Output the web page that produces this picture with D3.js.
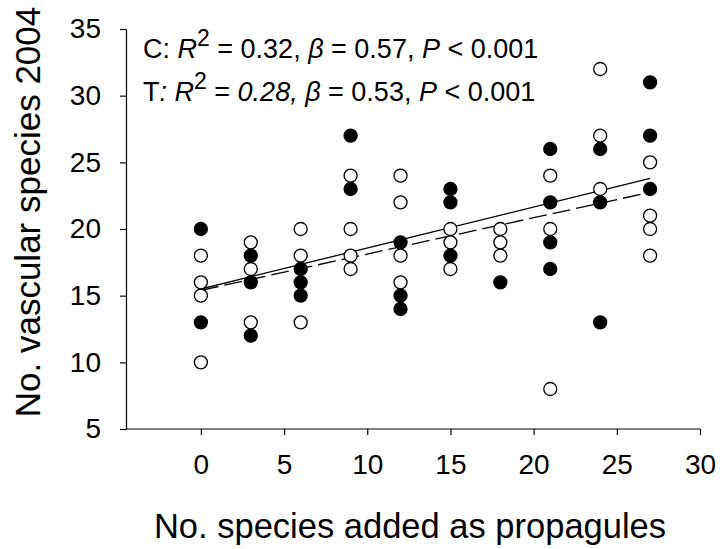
<!DOCTYPE html>
<html>
<head>
<meta charset="utf-8">
<script src="https://cdn.jsdelivr.net/npm/d3@7"></script>
<style>
  html, body { margin: 0; padding: 0; background: #fff; }
  svg { display: block; font-family: "Liberation Sans", Arial, sans-serif; }
</style>
</head>
<body>
<svg id="chart" width="720" height="549"></svg>
<script>
// Propagule treatments (species added) and species counts per plot
const xFilled = [0, 0, 3, 3, 3, 6, 6, 6, 9, 9, 12, 12, 12, 15, 15, 15, 18, 21, 21, 21, 21, 24, 24, 24, 27, 27, 27];
const yFilled = [20, 13, 18, 16, 12, 17, 16, 15, 27, 23, 19, 15, 14, 23, 22, 18, 16, 26, 22, 19, 17, 26, 22, 13, 31, 27, 23];

const xOpen = [0, 0, 0, 0, 3, 3, 3, 6, 6, 6, 9, 9, 9, 9, 12, 12, 12, 12, 15, 15, 15, 18, 18, 18, 21, 21, 21, 24, 24, 24, 27, 27, 27, 27];
const yOpen = [18, 16, 15, 10, 19, 17, 13, 20, 18, 13, 24, 20, 18, 17, 24, 22, 18, 16, 20, 19, 17, 20, 19, 18, 24, 20, 8, 32, 27, 23, 25, 21, 20, 18];

// Fitted regression lines: [x, y] at both ends
const fitSolid = [[0, 15.5], [27, 23.8]];
const fitDashed = [[0, 15.4], [27, 22.75]];

const xTicks = [0, 5, 10, 15, 20, 25, 30];
const yTicks = [5, 10, 15, 20, 25, 30, 35];

const svg = d3.select("#chart");

const x = d3.scaleLinear().domain([-4.5, 30]).range([126, 700]);
const y = d3.scaleLinear().domain([5, 35]).range([429, 29]);

// Axes
const xAxis = svg.append("g")
  .attr("transform", `translate(0,${y(5)})`)
  .call(d3.axisBottom(x).tickValues(xTicks).tickSize(6).tickPadding(19).tickSizeOuter(0));
const yAxis = svg.append("g")
  .attr("transform", `translate(${x(-4.5)},0)`)
  .call(d3.axisLeft(y).tickValues(yTicks).tickSize(6).tickPadding(19).tickSizeOuter(0));

[xAxis, yAxis].forEach(g => {
  g.select(".domain").attr("stroke", "#000").attr("stroke-width", 1.2);
  g.selectAll(".tick line").attr("stroke", "#000").attr("stroke-width", 1.2);
  g.selectAll(".tick text")
    .attr("fill", "#000")
    .style("font-family", "'Liberation Sans', Arial, sans-serif")
    .style("font-size", "28px");
});
// extend x axis line to the right tick
xAxis.select(".domain").attr("d", `M${x(-4.5)},0H${x(30)}`);

// Regression lines
const line = d3.line().x(d => x(d[0])).y(d => y(d[1]));
svg.append("path").datum(fitSolid)
  .attr("d", line).attr("fill", "none").attr("stroke", "#000").attr("stroke-width", 1.3);
svg.append("path").datum(fitDashed)
  .attr("d", line).attr("fill", "none").attr("stroke", "#000").attr("stroke-width", 1.3)
  .attr("stroke-dasharray", "18,6");

// Points
const r = 6.5;
svg.append("g").selectAll("circle")
  .data(d3.range(xOpen.length))
  .join("circle")
  .attr("cx", i => x(xOpen[i]))
  .attr("cy", i => y(yOpen[i]))
  .attr("r", r)
  .attr("fill", "#fff").attr("stroke", "#000").attr("stroke-width", 1.3);
svg.append("g").selectAll("circle")
  .data(d3.range(xFilled.length))
  .join("circle")
  .attr("cx", i => x(xFilled[i]))
  .attr("cy", i => y(yFilled[i]))
  .attr("r", r)
  .attr("fill", "#000").attr("stroke", "#000").attr("stroke-width", 1.3);

// Regression statistics
function statLine(yPos, parts) {
  const t = svg.append("text").attr("x", 143).attr("y", yPos)
    .style("font-size", "27px").attr("fill", "#000");
  parts.forEach(p => {
    const s = t.append("tspan").text(p.t);
    if (p.i) s.style("font-style", "italic");
    if (p.sup) s.attr("dy", -12).style("font-size", "23px");
    if (p.down) s.attr("dy", 12);
  });
}
statLine(58, [
  { t: "C: " }, { t: "R", i: true }, { t: "2", sup: true },
  { t: " = 0.32, ", down: true }, { t: "β", i: true }, { t: " = 0.57, " },
  { t: "P", i: true }, { t: " < 0.001" }
]);
statLine(101, [
  { t: "T" }, { t: ": R", i: true }, { t: "2", sup: true },
  { t: " = ", down: true }, { t: "0.28, β", i: true }, { t: " = 0.53, " },
  { t: "P", i: true }, { t: " < 0.001" }
]);

// Axis titles
svg.append("text")
  .attr("x", 410).attr("y", 538)
  .attr("text-anchor", "middle")
  .style("font-size", "34.5px")
  .text("No. species added as propagules");
svg.append("text")
  .attr("transform", `translate(40,212) rotate(-90)`)
  .attr("text-anchor", "middle")
  .style("font-size", "35px")
  .text("No. vascular species 2004");
</script>
</body>
</html>
